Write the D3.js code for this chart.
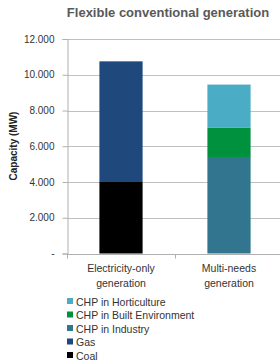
<!DOCTYPE html>
<html>
<head>
<meta charset="utf-8">
<script src="https://cdn.jsdelivr.net/npm/d3@7"></script>
<style>
  body { margin: 0; background: #fff; }
  text { font-family: "Liberation Sans", Arial, sans-serif; }
</style>
</head>
<body>
<svg id="chart" width="280" height="361"></svg>
<script>
const categories = ['Electricity-only generation', 'Multi-needs generation']
const catLines = [['Electricity-only', 'generation'], ['Multi-needs', 'generation']]
const seriesNames = ['Coal', 'Gas', 'CHP in Industry', 'CHP in Built Environment', 'CHP in Horticulture']
const coal = [4000, 0]
const gas = [6750, 0]
const chpIndustry = [0, 5400]
const chpBuilt = [0, 1650]
const chpHort = [0, 2400]
const colors = ['#000000', '#1f497d', '#31758e', '#00913f', '#4bacc6']
const yTicks = [0, 2000, 4000, 6000, 8000, 10000, 12000]

const svg = d3.select('#chart')
const margin = { top: 39, left: 67, right: -3, bottom: 107.5 }
const W = 280, H = 361

const rows = categories.map((c, i) => ({
  cat: c,
  'Coal': coal[i],
  'Gas': gas[i],
  'CHP in Industry': chpIndustry[i],
  'CHP in Built Environment': chpBuilt[i],
  'CHP in Horticulture': chpHort[i]
}))
const stacked = d3.stack().keys(seriesNames)(rows)

const x = d3.scaleBand().domain(categories)
  .range([margin.left, W - margin.right])
  .paddingInner(0.6).paddingOuter(0.3)
const y = d3.scaleLinear().domain([0, 12000]).range([H - margin.bottom, margin.top])

const fmt = v => v === 0 ? '-' : d3.format(',')(v).replace(/,/g, '.')

// gridlines
svg.append('g')
  .selectAll('line').data(yTicks.filter(d => d > 0)).join('line')
  .attr('x1', margin.left).attr('x2', W)
  .attr('y1', d => Math.round(y(d)) + 0.5).attr('y2', d => Math.round(y(d)) + 0.5)
  .attr('stroke', '#c0c0c0').attr('stroke-width', 1)

// bars
svg.append('g')
  .selectAll('g').data(stacked).join('g')
  .attr('fill', (d, i) => colors[i])
  .selectAll('rect').data(d => d.map(p => ({ p, cat: p.data.cat }))).join('rect')
  .attr('x', d => x(d.cat))
  .attr('width', x.bandwidth())
  .attr('y', d => y(d.p[1]))
  .attr('height', d => y(d.p[0]) - y(d.p[1]))

// y axis
const yAxis = svg.append('g')
  .attr('transform', `translate(${margin.left + 0.5},0)`)
  .call(d3.axisLeft(y).tickValues(yTicks).tickFormat(fmt).tickSize(5).tickPadding(8))
yAxis.select('.domain').attr('stroke', '#b0b0b0')
yAxis.selectAll('.tick line').attr('stroke', '#b0b0b0')
yAxis.selectAll('.tick text').attr('fill', '#333').style('font-size', '10px')
  .style('font-family', '"Liberation Sans", Arial, sans-serif')

// x axis
const x0 = Math.round(y(0)) + 0.5
svg.append('line').attr('x1', margin.left).attr('x2', W).attr('y1', x0).attr('y2', x0)
  .attr('stroke', '#b0b0b0')
const bounds = [margin.left, (x(categories[0]) + x.bandwidth() + x(categories[1])) / 2]
svg.append('g').selectAll('line').data(bounds).join('line')
  .attr('x1', d => Math.round(d) + 0.5).attr('x2', d => Math.round(d) + 0.5)
  .attr('y1', x0).attr('y2', x0 + 4).attr('stroke', '#b0b0b0')

// category labels
const cl = svg.append('g').selectAll('text').data(categories).join('text')
  .attr('x', d => x(d) + x.bandwidth() / 2)
  .attr('y', 272)
  .attr('text-anchor', 'middle')
  .attr('fill', '#333')
  .style('font-size', '10.5px')
cl.selectAll('tspan').data((d, i) => catLines[i]).join('tspan')
  .attr('x', function () { return d3.select(this.parentNode).attr('x') })
  .attr('dy', (d, i) => i === 0 ? 0 : 14.5)
  .text(d => d)

// y title
svg.append('text')
  .attr('transform', 'translate(17,146) rotate(-90)')
  .attr('text-anchor', 'middle')
  .attr('fill', '#222')
  .style('font-size', '10px').style('font-weight', 'bold')
  .text('Capacity (MW)')

// title
svg.append('text')
  .attr('x', 168).attr('y', 17)
  .attr('text-anchor', 'middle')
  .attr('fill', '#595959')
  .style('font-size', '13px').style('font-weight', 'bold')
  .text('Flexible conventional generation')

// legend
const legendOrder = seriesNames.slice().reverse()
const lg = svg.append('g').selectAll('g').data(legendOrder).join('g')
  .attr('transform', (d, i) => `translate(67,${302 + i * 13.5})`)
lg.append('rect').attr('x', 0).attr('y', -4).attr('width', 6).attr('height', 6)
  .attr('fill', d => colors[seriesNames.indexOf(d)])
lg.append('text').attr('x', 9).attr('y', 0).attr('dy', '0.35em')
  .attr('fill', '#333').style('font-size', '10.5px')
  .text(d => d)
</script>
</body>
</html>
